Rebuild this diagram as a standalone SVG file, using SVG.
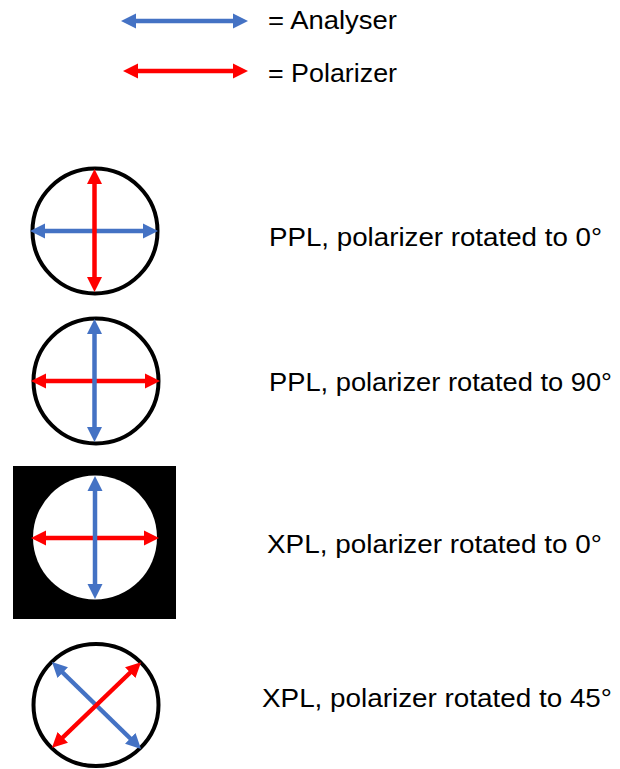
<svg xmlns="http://www.w3.org/2000/svg" width="620" height="769" viewBox="0 0 620 769">
  <style>
    .lbl { font-family: "Liberation Sans", Arial, sans-serif; font-size: 26.5px; fill: #000; }
    .ring { fill: none; stroke: #000; stroke-width: 4; }
    .ana { stroke: #4472C4; stroke-width: 4.5; fill: none; marker-start: url(#headB); marker-end: url(#headB); }
    .pol { stroke: #FF0000; stroke-width: 4.5; fill: none; marker-start: url(#headR); marker-end: url(#headR); }
  </style>
  <defs>
    <marker id="headB" markerUnits="userSpaceOnUse" viewBox="0 -8 15 16" refX="8" refY="0" markerWidth="15" markerHeight="16" orient="auto-start-reverse">
      <path d="M0,-7.5 L15,0 L0,7.5 z" fill="#4472C4"/>
    </marker>
    <marker id="headR" markerUnits="userSpaceOnUse" viewBox="0 -8 15 16" refX="8" refY="0" markerWidth="15" markerHeight="16" orient="auto-start-reverse">
      <path d="M0,-7.5 L15,0 L0,7.5 z" fill="#FF0000"/>
    </marker>
  </defs>

  <rect width="620" height="769" fill="#fff"/>

  <!-- legend -->
  <g id="legend-analyser">
    <line class="ana" x1="128" y1="21" x2="241" y2="21"/>
    <text class="lbl" x="268" y="29" textLength="129" lengthAdjust="spacingAndGlyphs">= Analyser</text>
  </g>
  <g id="legend-polarizer">
    <line class="pol" x1="130" y1="71" x2="241" y2="71"/>
    <text class="lbl" x="268" y="82" textLength="129" lengthAdjust="spacingAndGlyphs">= Polarizer</text>
  </g>

  <!-- PPL, 0 degrees -->
  <g id="ppl-0">
    <circle class="ring" cx="95" cy="231" r="62.5"/>
    <line class="ana" x1="37" y1="231" x2="151" y2="231"/>
    <line class="pol" x1="94.5" y1="176" x2="94.5" y2="285"/>
    <text class="lbl" x="269" y="246" textLength="333" lengthAdjust="spacingAndGlyphs">PPL, polarizer rotated to 0°</text>
  </g>

  <!-- PPL, 90 degrees -->
  <g id="ppl-90">
    <circle class="ring" cx="96" cy="381" r="62.5"/>
    <line class="pol" x1="38" y1="381" x2="153" y2="381"/>
    <line class="ana" x1="94.5" y1="326" x2="94.5" y2="435"/>
    <text class="lbl" x="269" y="391" textLength="343" lengthAdjust="spacingAndGlyphs">PPL, polarizer rotated to 90°</text>
  </g>

  <!-- XPL, 0 degrees -->
  <g id="xpl-0">
    <rect x="13" y="466" width="163" height="153" fill="#000"/>
    <circle cx="95" cy="537.5" r="62" fill="#fff"/>
    <line class="pol" x1="38" y1="538" x2="152" y2="538"/>
    <line class="ana" x1="95" y1="483" x2="95" y2="592"/>
    <text class="lbl" x="267" y="553" textLength="335" lengthAdjust="spacingAndGlyphs">XPL, polarizer rotated to 0°</text>
  </g>

  <!-- XPL, 45 degrees -->
  <g id="xpl-45">
    <ellipse class="ring" cx="96" cy="705" rx="62.5" ry="61"/>
    <line class="ana" x1="57" y1="667" x2="136" y2="744"/>
    <line class="pol" x1="136" y1="667" x2="57" y2="743"/>
    <text class="lbl" x="262" y="707" textLength="350" lengthAdjust="spacingAndGlyphs">XPL, polarizer rotated to 45°</text>
  </g>
</svg>
